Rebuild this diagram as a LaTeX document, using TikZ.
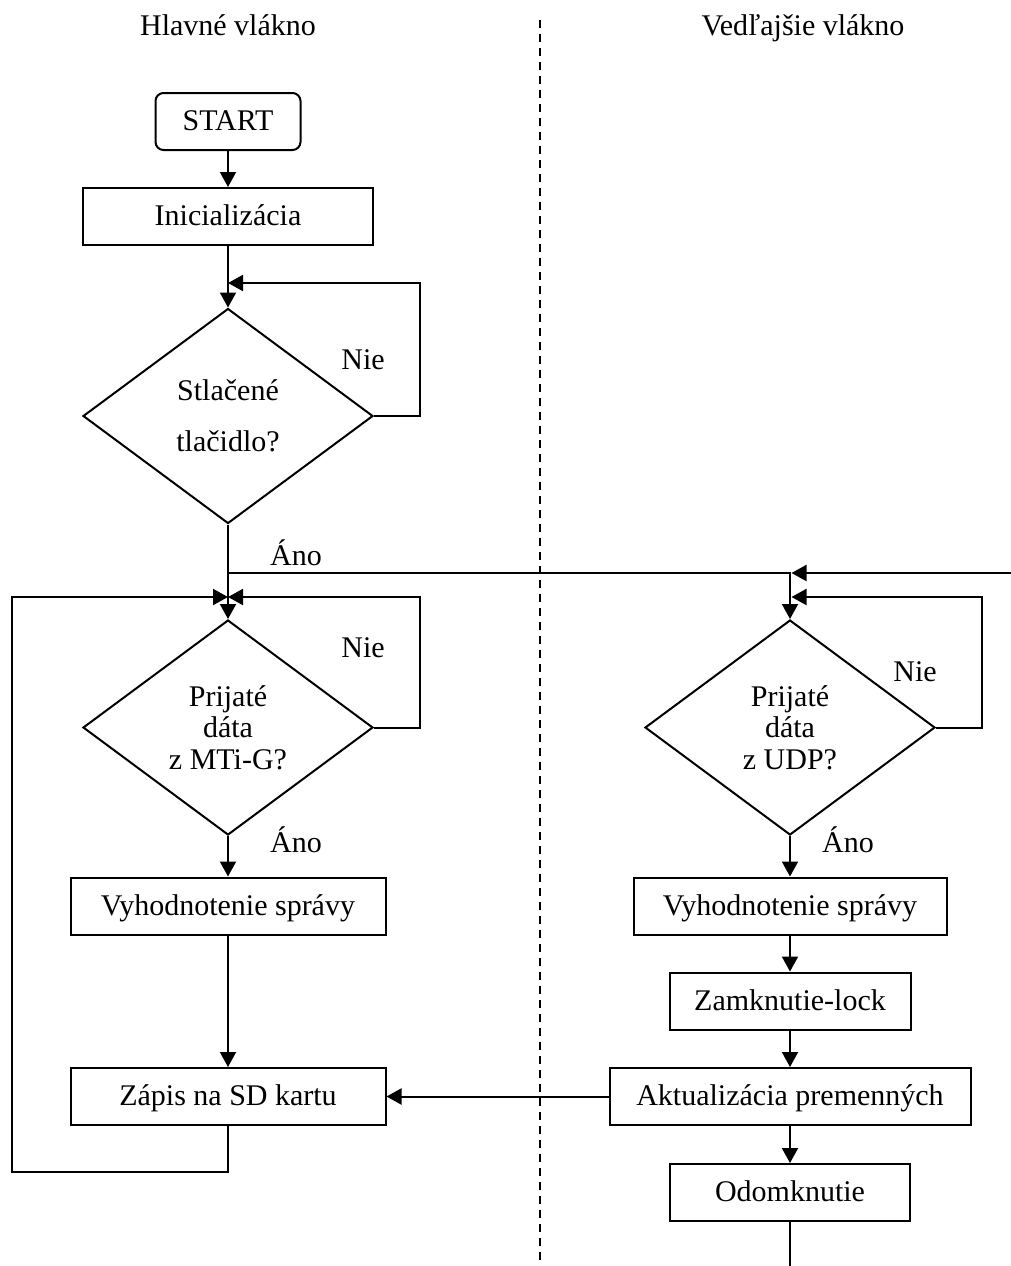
\documentclass[tikz,border=0pt]{standalone}
\usepackage{fontspec}
\setmainfont{Liberation Serif}
\usetikzlibrary{shapes.geometric, arrows.meta, positioning}

\begin{document}
\begin{tikzpicture}[x=0.5pt, y=-0.5pt, line width=1pt,
    every node/.style={font=\fontsize{15pt}{15.75pt}\selectfont},
    proc/.style={draw, rectangle, minimum height=28.5pt, inner sep=2pt, text height=11pt, text depth=2pt},
    term/.style={proc, rounded corners=4pt},
    decision/.style={draw, diamond, minimum width=145pt, minimum height=107.5pt, inner sep=0pt, align=center},
    arr/.style={-{Triangle[length=7.5pt,width=8pt]}}]
    \useasboundingbox (0,0) rectangle (1011,1266);

    % headings and thread separator
    \node[anchor=base] (hdrL) at (228,35) {Hlavné vlákno};
    \node[anchor=base] (hdrR) at (803,35) {Vedľajšie vlákno};
    \draw[dash pattern=on 4pt off 3pt] (540,20) -- (540,1262);

    % main thread
    \node[term, minimum width=72.5pt] (start) at (228,121.5) {START};
    \node[proc, minimum width=145pt] (init) at (228,216.5) {Inicializácia};
    \node[decision] (dec1) at (228,416) {Stlačené\\[10pt]tlačidlo?};
    \node[decision] (dec2) at (228,727.5) {Prijaté\\dáta\\z MTi-G?};
    \node[proc, minimum width=157.5pt] (evalL) at (228,906) {Vyhodnotenie správy};
    \node[proc, minimum width=157.5pt] (sd) at (228,1096.5) {Zápis na SD kartu};

    % side thread
    \node[decision] (dec3) at (790,727.5) {Prijaté\\dáta\\z UDP?};
    \node[proc, minimum width=156.5pt] (evalR) at (790,906) {Vyhodnotenie správy};
    \node[proc, minimum width=120.5pt] (lock) at (790,1001) {Zamknutie-lock};
    \node[proc, minimum width=180.5pt] (upd) at (790,1096.5) {Aktualizácia premenných};
    \node[proc, minimum width=120pt] (unlock) at (790,1192.5) {Odomknutie};

    % branch labels
    \node (nie1) at (363,360) {Nie};
    \node (ano1) at (296,553) {Áno};
    \node (nie2) at (363,648) {Nie};
    \node (ano2) at (296,840) {Áno};
    \node (nie3) at (915,672) {Nie};
    \node (ano3) at (848,840) {Áno};

    % junctions
    \coordinate (j1) at (228,283);
    \coordinate (j2) at (228,597);
    \coordinate (j3) at (791.5,597);
    \coordinate (j4) at (791.5,573);
    \coordinate (fork) at (228,573);
    \coordinate (lft) at (12,1172);
    \coordinate (rin) at (1011,573);
    \coordinate (bot) at (790,1266);

    % connectors
    \draw[arr] (start) -- (init);
    \draw[arr] (init) -- (dec1);
    \draw[arr] (dec1.east) -- ++(46,0) |- (j1);
    \draw[arr] (dec1) -- (dec2);
    \draw[arr] (fork) -| (dec3.north);
    \draw[arr] (rin) -- (j4);
    \draw[arr] (dec2.east) -- ++(46,0) |- (j2);
    \draw[arr] (dec2) -- (evalL);
    \draw[arr] (evalL) -- (sd);
    \draw[arr] (sd.south) |- (lft) |- (j2);
    \draw[arr] (dec3.east) -- ++(46,0) |- (j3);
    \draw[arr] (dec3) -- (evalR);
    \draw[arr] (evalR) -- (lock);
    \draw[arr] (lock) -- (upd);
    \draw[arr] (upd) -- (sd);
    \draw[arr] (upd) -- (unlock);
    \draw (unlock) -- (bot);
\end{tikzpicture}
\end{document}
